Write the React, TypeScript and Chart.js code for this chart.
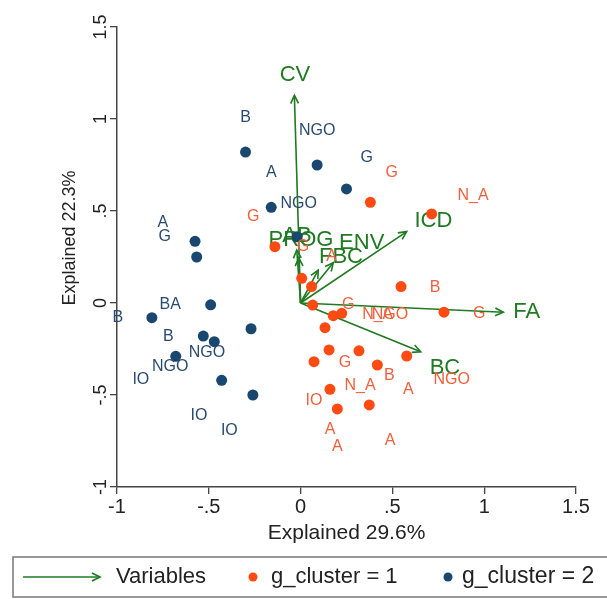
import React, { useEffect, useRef } from "react";
import { Chart, registerables } from "chart.js";

Chart.register(...registerables);

// ---- data ----
const axisTicks = [-1, -0.5, 0, 0.5, 1, 1.5];
const xTitle = "Explained 29.6%";
const yTitle = "Explained 22.3%";

const cluster1X = [0.38, 0.714, -0.14, 0.006, 0.06, 0.547, 0.066, 0.178, 0.224, 0.781, 0.133, 0.155, 0.318, 0.073, 0.418, 0.578, 0.16, 0.2, 0.374];
const cluster1Y = [0.547, 0.484, 0.306, 0.134, 0.089, 0.089, -0.011, -0.069, -0.056, -0.05, -0.134, -0.255, -0.26, -0.319, -0.337, -0.288, -0.469, -0.576, -0.554];

const cluster2X = [-0.3, 0.09, 0.25, -0.16, -0.575, -0.566, -0.02, -0.49, -0.81, -0.27, -0.53, -0.47, -0.68, -0.43, -0.26];
const cluster2Y = [0.82, 0.75, 0.62, 0.52, 0.335, 0.25, 0.36, -0.01, -0.08, -0.14, -0.18, -0.21, -0.29, -0.42, -0.5];

const variableNames = ["CV", "ICD", "FA", "BC", "ENV", "FBC", "PROG", "AB"];
const variableX = [-0.034, 0.578, 1.104, 0.654, 0.178, 0.096, -0.021, -0.01];
const variableY = [1.128, 0.388, -0.05, -0.265, 0.219, 0.179, 0.288, 0.245];
const variableLabelX = [-0.031, 0.723, 1.231, 0.786, 0.333, 0.22, 0.002, -0.02];
const variableLabelY = [1.239, 0.447, -0.047, -0.353, 0.324, 0.25, 0.342, 0.362];

const labels1 = ["G", "G", "N_A", "A", "G", "B", "G", "N_A", "NGO", "G", "G", "B", "N_A", "A", "NGO", "IO", "A", "A", "A"];
const labels1X = [-0.258, 0.496, 0.939, 0.169, 0.013, 0.732, 0.26, 0.42, 0.487, 0.973, 0.242, 0.483, 0.324, 0.587, 0.823, 0.073, 0.16, 0.2, 0.487];
const labels1Y = [0.469, 0.708, 0.582, 0.25, 0.304, 0.085, -0.011, -0.065, -0.065, -0.056, -0.324, -0.397, -0.451, -0.469, -0.418, -0.531, -0.69, -0.781, -0.748];

const labels2 = ["B", "NGO", "A", "G", "NGO", "A", "G", "BA", "B", "B", "NGO", "NGO", "IO", "IO", "IO"];
const labels2X = [-0.3, 0.09, -0.16, 0.36, -0.01, -0.75, -0.74, -0.71, -0.995, -0.72, -0.51, -0.71, -0.87, -0.553, -0.388];
const labels2Y = [1.005, 0.935, 0.707, 0.788, 0.538, 0.436, 0.359, -0.01, -0.082, -0.185, -0.27, -0.348, -0.418, -0.612, -0.696];

const legendLabels = ["Variables", "g_cluster = 1", "g_cluster = 2"];

// ---- styles ----
const GREEN = "#1f7a22";
const RED = "#ff4a12";
const RED_TEXT = "#f0603c";
const NAVY = "#1a476f";
const NAVY_TEXT = "#2a4b70";
const AXIS = "#444444";
const FONT = "'Liberation Sans', Arial, sans-serif";

function fmt(v: number): string {
  if (v === 0) return "0";
  return String(v).replace("0.", ".");
}

function arrowHead(ctx: CanvasRenderingContext2D, ox: number, oy: number, tx: number, ty: number, len: number) {
  const a = Math.atan2(ty - oy, tx - ox);
  const s = 0.45;
  ctx.beginPath();
  ctx.moveTo(tx - len * Math.cos(a - s), ty - len * Math.sin(a - s));
  ctx.lineTo(tx, ty);
  ctx.lineTo(tx - len * Math.cos(a + s), ty - len * Math.sin(a + s));
  ctx.stroke();
}

const biplotPlugin = {
  id: "biplotDecor",
  beforeDatasetsDraw(chart: any) {
    const ctx = chart.ctx as CanvasRenderingContext2D;
    const xs = chart.scales.x;
    const ys = chart.scales.y;
    ctx.save();
    ctx.strokeStyle = GREEN;
    ctx.lineWidth = 1.6;
    const ox = xs.getPixelForValue(0);
    const oy = ys.getPixelForValue(0);
    for (let i = 0; i < variableNames.length; i++) {
      arrowHead(ctx, ox, oy, xs.getPixelForValue(variableX[i]), ys.getPixelForValue(variableY[i]), 9);
    }
    ctx.fillStyle = GREEN;
    ctx.font = `22px ${FONT}`;
    ctx.textAlign = "center";
    ctx.textBaseline = "middle";
    for (let i = 0; i < variableNames.length; i++) {
      ctx.fillText(variableNames[i], xs.getPixelForValue(variableLabelX[i]), ys.getPixelForValue(variableLabelY[i]));
    }
    ctx.restore();
  },
  afterDatasetsDraw(chart: any) {
    const ctx = chart.ctx as CanvasRenderingContext2D;
    const xs = chart.scales.x;
    const ys = chart.scales.y;
    ctx.save();
    ctx.font = `16px ${FONT}`;
    ctx.textAlign = "center";
    ctx.textBaseline = "middle";
    ctx.fillStyle = RED_TEXT;
    for (let i = 0; i < labels1.length; i++) {
      ctx.fillText(labels1[i], xs.getPixelForValue(labels1X[i]), ys.getPixelForValue(labels1Y[i]));
    }
    ctx.fillStyle = NAVY_TEXT;
    for (let i = 0; i < labels2.length; i++) {
      ctx.fillText(labels2[i], xs.getPixelForValue(labels2X[i]), ys.getPixelForValue(labels2Y[i]));
    }
    ctx.restore();
  },
  afterDraw(chart: any) {
    const ctx = chart.ctx as CanvasRenderingContext2D;
    const ys = chart.scales.y;
    const area = chart.chartArea;
    ctx.save();
    ctx.fillStyle = "#222";
    ctx.font = `18px ${FONT}`;
    ctx.textAlign = "center";
    ctx.textBaseline = "middle";
    for (const t of ys.ticks) {
      const py = ys.getPixelForValue(t.value);
      ctx.save();
      ctx.translate(area.left - 16, py);
      ctx.rotate(-Math.PI / 2);
      ctx.fillText(fmt(t.value), 0, 0);
      ctx.restore();
    }
    ctx.save();
    ctx.translate(area.left - 47, (area.top + area.bottom) / 2 - 19);
    ctx.rotate(-Math.PI / 2);
    ctx.fillText(yTitle, 0, 0);
    ctx.restore();
    ctx.font = `21px ${FONT}`;
    ctx.fillText(xTitle, (area.left + area.right) / 2, area.bottom + 46);

    // legend
    const top = 557;
    const bottom = 597;
    const cy = (top + bottom) / 2;
    ctx.strokeStyle = "#777";
    ctx.lineWidth = 1.5;
    ctx.strokeRect(13, top, 620, bottom - top);
    ctx.strokeStyle = GREEN;
    ctx.lineWidth = 1.6;
    ctx.beginPath();
    ctx.moveTo(23, cy);
    ctx.lineTo(100, cy);
    ctx.stroke();
    arrowHead(ctx, 23, cy, 100, cy, 9);
    ctx.font = `22px ${FONT}`;
    ctx.textAlign = "left";
    ctx.fillStyle = "#222";
    ctx.fillText(legendLabels[0], 116, cy);
    ctx.fillStyle = RED;
    ctx.beginPath();
    ctx.arc(253, cy, 4.5, 0, Math.PI * 2);
    ctx.fill();
    ctx.fillStyle = "#222";
    ctx.fillText(legendLabels[1], 271, cy);
    ctx.fillStyle = NAVY;
    ctx.beginPath();
    ctx.arc(448, cy, 4.5, 0, Math.PI * 2);
    ctx.fill();
    ctx.fillStyle = "#222";
    ctx.font = `23px ${FONT}`;
    ctx.fillText(legendLabels[2], 462, cy);
    ctx.restore();
  },
};

export default function App() {
  const ref = useRef<HTMLCanvasElement | null>(null);

  useEffect(() => {
    document.body.style.margin = "0";
    if (!ref.current) return;

    const arrowSets = variableNames.map((name, i) => ({
      type: "scatter" as const,
      label: name,
      data: [
        { x: 0, y: 0 },
        { x: variableX[i], y: variableY[i] },
      ],
      showLine: true,
      borderColor: GREEN,
      borderWidth: 1.6,
      pointRadius: 0,
      order: 3,
    }));

    const chart = new Chart(ref.current, {
      type: "scatter",
      data: {
        datasets: [
          ...arrowSets,
          {
            label: legendLabels[1],
            data: cluster1X.map((x, i) => ({ x, y: cluster1Y[i] })),
            backgroundColor: RED,
            borderColor: RED,
            pointRadius: 5.5,
            borderWidth: 0,
            order: 2,
          },
          {
            label: legendLabels[2],
            data: cluster2X.map((x, i) => ({ x, y: cluster2Y[i] })),
            backgroundColor: NAVY,
            borderColor: NAVY,
            pointRadius: 5.5,
            borderWidth: 0,
            order: 1,
          },
        ],
      },
      options: {
        animation: false,
        responsive: false,
        layout: { padding: { left: 0, top: 27, right: 31, bottom: 49 } },
        plugins: {
          legend: { display: false },
          tooltip: { enabled: false },
        },
        scales: {
          x: {
            type: "linear",
            min: axisTicks[0],
            max: axisTicks[axisTicks.length - 1],
            afterBuildTicks: (s: any) => {
              s.ticks = axisTicks.map((v) => ({ value: v }));
            },
            afterFit: (s: any) => {
              s.height = 63;
            },
            grid: { drawOnChartArea: false, drawTicks: true, tickLength: 7, color: AXIS, lineWidth: 1.3 },
            border: { display: true, color: AXIS, width: 1.5 },
            ticks: {
              callback: (v: any) => fmt(Number(v)),
              color: "#222",
              font: { family: FONT, size: 20 },
              padding: 1,
              maxRotation: 0,
              autoSkip: false,
            },
          },
          y: {
            type: "linear",
            min: axisTicks[0],
            max: axisTicks[axisTicks.length - 1],
            afterBuildTicks: (s: any) => {
              s.ticks = axisTicks.map((v) => ({ value: v }));
            },
            afterFit: (s: any) => {
              s.width = 117;
            },
            grid: { drawOnChartArea: false, drawTicks: true, tickLength: 7, color: AXIS, lineWidth: 1.3 },
            border: { display: true, color: AXIS, width: 1.5 },
            ticks: { display: false },
          },
        },
      },
      plugins: [biplotPlugin],
    } as any);

    return () => chart.destroy();
  }, []);

  return <canvas ref={ref} width={607} height={599} style={{ display: "block" }} />;
}
